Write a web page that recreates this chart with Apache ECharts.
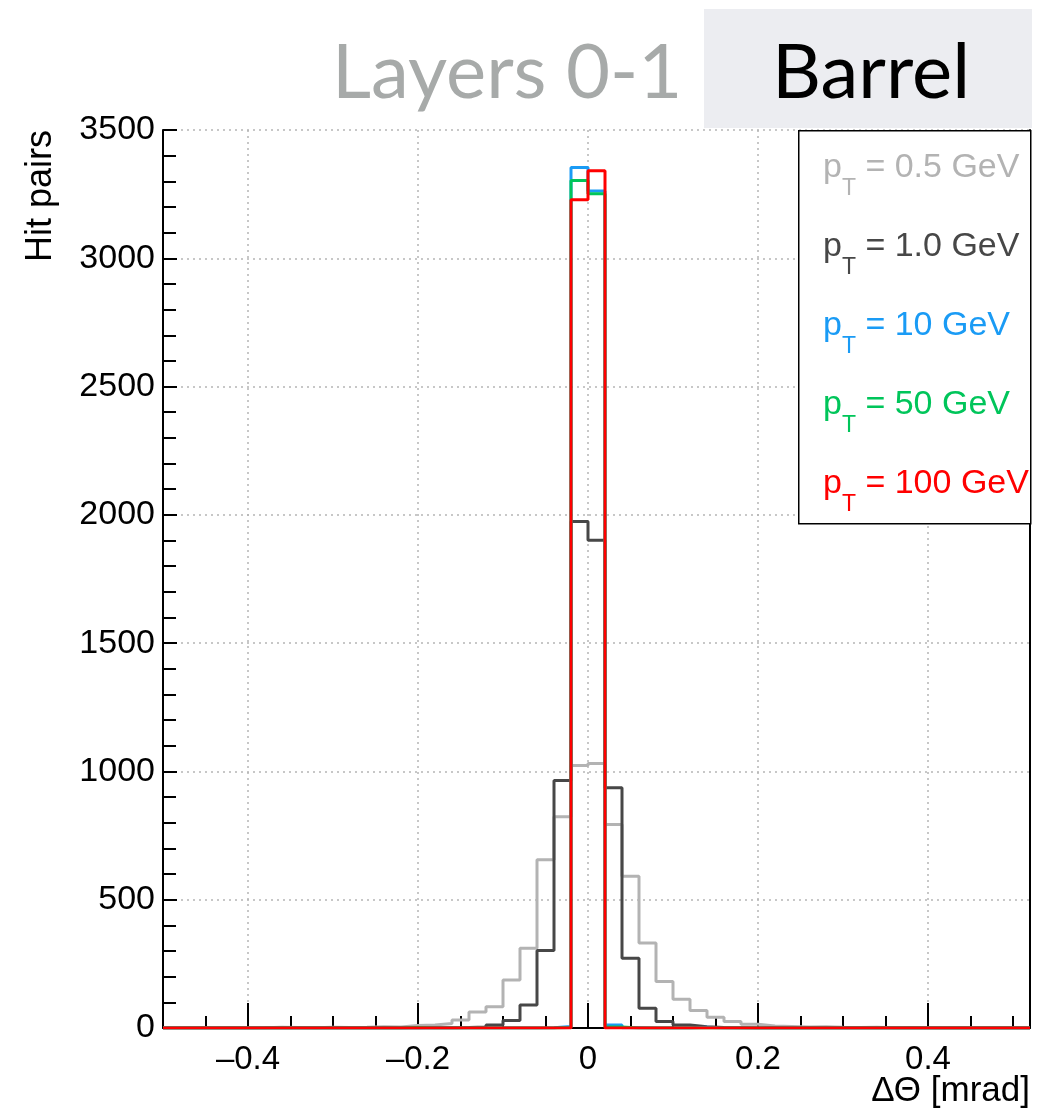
<!DOCTYPE html>
<html>
<head>
<meta charset="utf-8">
<script src="https://cdn.jsdelivr.net/npm/echarts@6/dist/echarts.min.js"></script>
<style>
html,body{margin:0;padding:0;background:#fff;}
#chart{width:1042px;height:1109px;}
</style>
</head>
<body>
<div id="chart"></div>
<script>
// Histogram binning: 51 bins of width 0.02 mrad starting at -0.5
const binStart = -0.5;
const binWidth = 0.02;

// Counts per bin (index 0 = [-0.50,-0.48], index 24 = [-0.02,0], index 25 = [0,0.02])
const pt05 = [0,1,0,1,0,1,3,2,1,3, 2,3,5,4,10,12,18,31,62,83, 187,311,656,823,1023,1031,793,591,331,181, 112,68,42,25,15,8,6,4,5,3, 2,3,1,2,1,0,1,0,1,0, 0];
const pt10 = [0,0,0,0,0,0,0,0,0,0, 0,0,1,0,0,1,1,2,4,12, 29,90,302,965,1974,1901,936,272,77,25, 12,5,2,1,0,1,0,0,0,0, 0,0,0,0,0,0,0,0,0,0, 0];
const pt100g = [0,0,0,0,0,0,0,0,0,0, 0,0,0,0,0,0,0,0,0,0, 0,0,1,6,3354,3262,12,1,0,0, 0,3,0,0,0,0,0,0,0,0, 0,0,0,0,0,0,0,0,0,0, 0];
const pt50 = [0,0,0,0,0,0,0,0,0,0, 0,0,0,0,2,0,0,0,0,0, 0,0,0,2,3303,3252,4,0,0,0, 0,0,0,0,0,0,0,0,0,0, 0,0,0,0,0,0,0,0,0,0, 0];
const pt100 = [0,0,0,0,0,0,0,0,0,0, 0,0,0,0,0,0,0,0,0,0, 0,0,0,0,3228,3341,0,0,0,0, 0,0,0,0,0,0,0,0,0,0, 0,0,0,0,0,0,0,0,0,0, 0];

const seriesNames = ['0.5 GeV', '1.0 GeV', '10 GeV', '50 GeV', '100 GeV'];
const seriesColors = ['#b3b3b3', '#474747', '#1a9bf5', '#00c55a', '#ff0000'];
const seriesCounts = [pt05, pt10, pt100g, pt50, pt100];

const xMajorTicks = [-0.4, -0.2, 0, 0.2, 0.4];

function stepData(counts) {
  const pts = [];
  for (let i = 0; i < counts.length; i++) {
    pts.push([+(binStart + i * binWidth).toFixed(2), counts[i]]);
  }
  pts.push([+(binStart + counts.length * binWidth).toFixed(2), counts[counts.length - 1]]);
  return pts;
}

const chart = echarts.init(document.getElementById('chart'), null, {renderer: 'canvas'});
const FONT = 'Liberation Sans, Arial, Helvetica, sans-serif';

const series = seriesNames.map((n, k) => ({
  name: 'p_T = ' + n,
  type: 'line',
  step: 'end',
  xAxisIndex: 0,
  yAxisIndex: 0,
  data: stepData(seriesCounts[k]),
  showSymbol: false,
  symbol: 'none',
  silent: true,
  animation: false,
  lineStyle: {color: seriesColors[k], width: 3},
  itemStyle: {color: seriesColors[k]},
  z: 3 + k
}));

const option = {
  animation: false,
  backgroundColor: '#ffffff',
  grid: {left: 163, right: 12, top: 130, bottom: 81, containLabel: false, outerBoundsMode: 'none'},
  xAxis: [
    {
      type: 'value', min: -0.5, max: 0.52, interval: 0.05,
      axisLine: {show: true, onZero: false, lineStyle: {color: '#000', width: 2}},
      axisTick: {show: true, inside: true, length: 12, lineStyle: {color: '#000', width: 2}},
      axisLabel: {show: false},
      splitLine: {show: false}
    },
    {
      type: 'value', min: -0.5, max: 0.52, position: 'bottom',
      name: 'ΔΘ [mrad]',
      nameLocation: 'end',
      nameGap: 0,
      nameMoveOverlap: false,
      nameTextStyle: {fontFamily: FONT, fontSize: 35, color: '#000', align: 'right', verticalAlign: 'top', padding: [46, 0, 0, 0]},
      axisLine: {show: false, onZero: false},
      axisTick: {show: true, inside: true, length: 25, customValues: xMajorTicks, lineStyle: {color: '#000', width: 2}},
      axisLabel: {show: true, customValues: xMajorTicks, margin: 15, fontFamily: FONT, fontSize: 33, color: '#000',
        formatter: v => (v < 0 ? '\u2013' + Math.abs(v).toFixed(1) : (v === 0 ? '0' : v.toFixed(1)))},
      splitLine: {show: true, lineStyle: {color: '#b5b5b5', type: [2, 4], width: 1.5}}
    }
  ],
  yAxis: [
    {
      type: 'value', min: 0, max: 3500, interval: 500,
      name: 'Hit pairs',
      nameLocation: 'end',
      nameRotate: 90,
      nameGap: 0,
      nameMoveOverlap: false,
      nameTextStyle: {fontFamily: FONT, fontSize: 36, color: '#000', align: 'right', verticalAlign: 'bottom', padding: [0, 0, 104, 0]},
      axisLine: {show: true, onZero: false, lineStyle: {color: '#000', width: 2}},
      axisTick: {show: true, inside: true, length: 14, lineStyle: {color: '#000', width: 2}},
      minorTick: {show: true, splitNumber: 5, length: 13, lineStyle: {color: '#000', width: 2}},
      axisLabel: {margin: 8, fontFamily: FONT, fontSize: 34, color: '#000', formatter: v => String(v)},
      splitLine: {show: true, lineStyle: {color: '#b5b5b5', type: [2, 4], width: 1.5}}
    },
    {
      type: 'value', min: 0, max: 3500, position: 'right',
      axisLine: {show: true, onZero: false, lineStyle: {color: '#000', width: 2}},
      axisTick: {show: false}, axisLabel: {show: false}, splitLine: {show: false}
    }
  ],
  legend: {
    orient: 'vertical',
    left: 817,
    top: 151,
    itemWidth: 0,
    itemHeight: 0,
    itemGap: 30,
    selectedMode: false,
    padding: 0,
    z: 20,
    data: seriesNames.map((n, k) => ({name: 'p_T = ' + n, textStyle: {color: seriesColors[k]}})),
    formatter: name => '{p|p}{t|T}{r| = ' + name.replace('p_T = ', '') + '}',
    textStyle: {
      fontFamily: FONT,
      fontSize: 34,
      rich: {
        p: {fontFamily: FONT, fontSize: 34, lineHeight: 64, verticalAlign: 'middle'},
        t: {fontFamily: FONT, fontSize: 23, lineHeight: 22, verticalAlign: 'bottom'},
        r: {fontFamily: FONT, fontSize: 34, lineHeight: 64, verticalAlign: 'middle'}
      }
    }
  },
  graphic: [
    {type: 'rect', left: 798, top: 130, shape: {width: 232, height: 393}, style: {fill: '#ffffff', stroke: '#000', lineWidth: 1.5}, z: 10, silent: true},
    {type: 'rect', left: 704, top: 9, shape: {width: 328, height: 119}, style: {fill: '#ecedf1'}, z: 10, silent: true},
    {type: 'text', left: 332, top: 35, style: {text: 'Layers 0-1', fontFamily: 'Lato, sans-serif', fontSize: 76, fill: '#a7aaa9'}, z: 11, silent: true},
    {type: 'text', left: 772, top: 35, style: {text: 'Barrel', fontFamily: 'Lato, sans-serif', fontSize: 76, fill: '#000'}, z: 11, silent: true}
  ],
  series: series
};
chart.setOption(option);
</script>
</body>
</html>
